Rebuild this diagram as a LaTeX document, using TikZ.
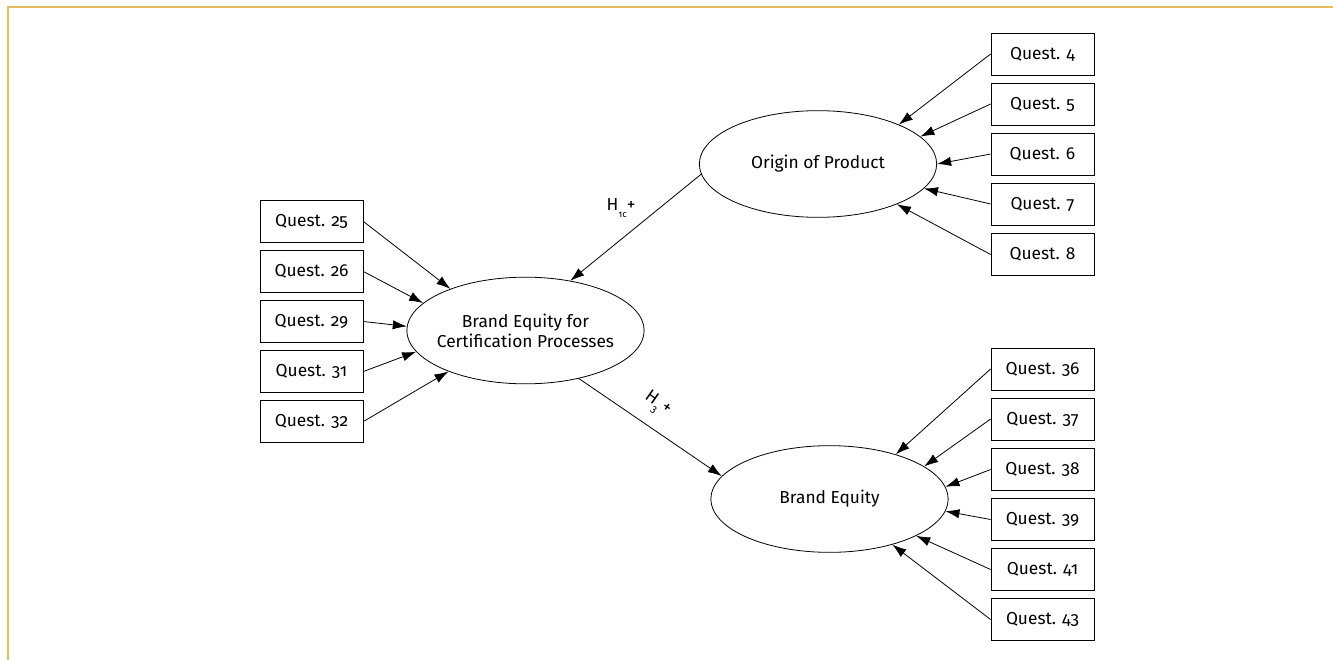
\documentclass[tikz,border=0pt]{standalone}
\usepackage{fontspec}
\setmainfont{Fira Sans}[Numbers=OldStyle]
\usetikzlibrary{shapes.geometric,arrows.meta}
\definecolor{frameorange}{RGB}{230,188,96}
\tikzset{
  qbox/.style={draw, line width=0.6pt, minimum width=77.25pt, minimum height=31.5pt, inner sep=0pt, font=\fontsize{13}{15}\selectfont},
  latent/.style={draw, ellipse, line width=0.6pt, minimum width=178pt, minimum height=80pt, inner sep=0pt},
  ltext/.style={align=center, inner sep=0pt, font=\fontsize{13}{15}\selectfont},
  arr/.style={line width=0.6pt, -{Latex[length=10.5pt,width=7pt]}},
  hlabel/.style={font=\fontsize{13}{15}\selectfont, inner sep=0pt}
}
\begin{document}
\begin{tikzpicture}[x=0.75pt,y=-0.75pt]
\useasboundingbox (0,0) rectangle (1333,660);
% frame
\draw[frameorange, line width=1.5pt] (7.5,660) -- (7.5,7.5) -- (1333,7.5);

% latent variables
\node[latent] (orig) at (818,164) {};
\node[ltext] (origt) at (orig.center) {Origin of Product};
\node[latent] (bec) at (525.5,330.5) {};
\node[ltext] (bect) at (bec.center) {Brand Equity for\\Certification Processes};
\node[latent] (be) at (829.5,499) {};
\node[ltext] (bet) at (be.center) {Brand Equity};

% right top boxes
\node[qbox] (q4) at (1042.5,54) {Quest. 4};
\node[qbox] (q5) at (1042.5,104) {Quest. 5};
\node[qbox] (q6) at (1042.5,154) {Quest. 6};
\node[qbox] (q7) at (1042.5,204) {Quest. 7};
\node[qbox] (q8) at (1042.5,254.5) {Quest. 8};

% right bottom boxes
\node[qbox] (q36) at (1042.5,369) {Quest. 36};
\node[qbox] (q37) at (1042.5,419) {Quest. 37};
\node[qbox] (q38) at (1042.5,469.5) {Quest. 38};
\node[qbox] (q39) at (1042.5,519.5) {Quest. 39};
\node[qbox] (q41) at (1042.5,569.5) {Quest. 41};
\node[qbox] (q43) at (1042.5,619.5) {Quest. 43};

% left boxes
\node[qbox] (q25) at (311.5,221.5) {Quest. 25};
\node[qbox] (q26) at (311.5,271.5) {Quest. 26};
\node[qbox] (q29) at (311.5,321.5) {Quest. 29};
\node[qbox] (q31) at (311.5,371.5) {Quest. 31};
\node[qbox] (q32) at (311.5,421.5) {Quest. 32};

% indicator arrows
\draw[arr] (q4.west) -- (orig.26);
\draw[arr] (q5.west) -- (orig.15);
\draw[arr] (q6.west) -- (orig.0);
\draw[arr] (q7.west) -- (orig.-13);
\draw[arr] (q8.west) -- (orig.-27);

\draw[arr] (q36.west) -- (be.34);
\draw[arr] (q37.west) -- (be.19);
\draw[arr] (q38.west) -- (be.6);
\draw[arr] (q39.west) -- (be.-6);
\draw[arr] (q41.west) -- (be.-23);
\draw[arr] (q43.west) -- (be.-36);

\draw[arr] (q25.east) -- (bec.151);
\draw[arr] (q26.east) -- (bec.165);
\draw[arr] (q29.east) -- (bec.178);
\draw[arr] (q31.east) -- (bec.191);
\draw[arr] (q32.east) -- (bec.208);

% structural paths
\draw[arr] (orig.185) -- (bec.48);
\draw[arr] (bec.318) -- (be.168);

% path labels
\node[hlabel] (h1) at (621,208) {H\raisebox{-0.7ex}{\fontsize{7}{7}\selectfont 1c}+};
\node[hlabel, rotate=-35] (h3) at (657,405) {H\raisebox{-0.7ex}{\fontsize{8}{8}\selectfont 3}\,+};
\end{tikzpicture}
\end{document}
